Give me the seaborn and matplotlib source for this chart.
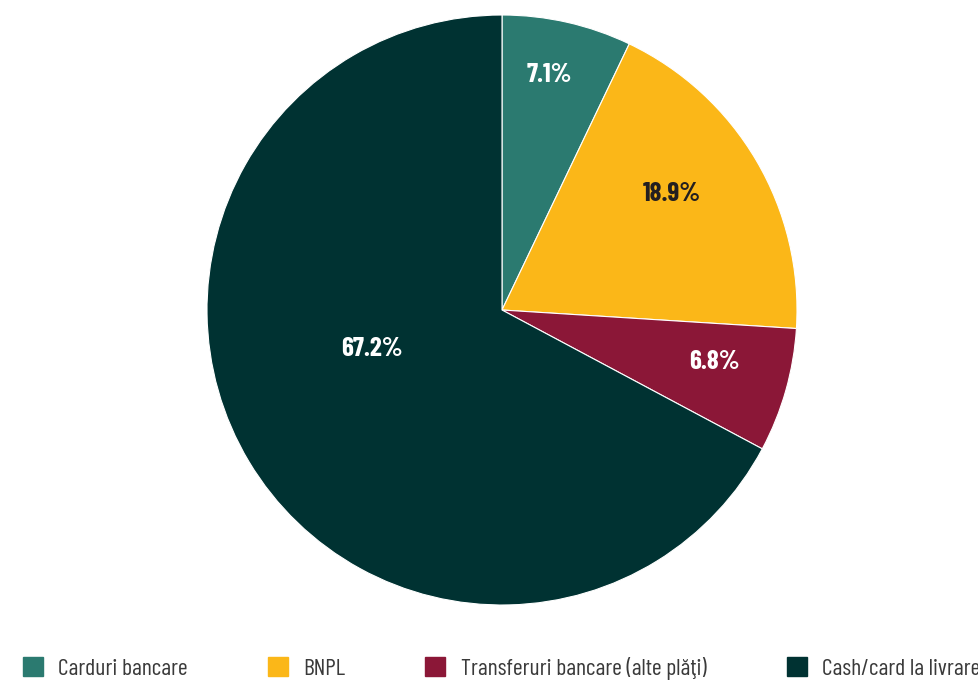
import numpy as np
import matplotlib
matplotlib.use("Agg")
import matplotlib.pyplot as plt
import seaborn as sns

categories = ["Carduri bancare", "BNPL", "Transferuri bancare (alte plăţi)", "Cash/card la livrare"]
values = [7.1, 18.9, 6.8, 67.2]
colors = ["#2b7a70", "#fbb718", "#8b1737", "#003232"]
label_colors = ["white", "#231f20", "white", "white"]
label_radius = [0.82, 0.70, 0.74, 0.46]
label_angle_shift = [1.5, 4.5, 2.5, -15.0]

sns.set_theme(style="white")
plt.rcParams['font.family'] = ['Barlow Condensed', 'DejaVu Sans']

fig = plt.figure(figsize=(9.79, 6.8), dpi=100)
cx, cy, r = 502, 310, 295
ax = fig.add_axes([(cx - r) / 979, (680 - cy - r) / 680, 2 * r / 979, 2 * r / 680])

wedges, _ = ax.pie(values, colors=colors, startangle=90, counterclock=False,
                   wedgeprops=dict(edgecolor="white", linewidth=0.8))
ax.set_xlim(-1, 1)
ax.set_ylim(-1, 1)
ax.set_aspect("equal")
ax.axis("off")

for w, v, lc, lr, sh in zip(wedges, values, label_colors, label_radius, label_angle_shift):
    mid = np.deg2rad((w.theta1 + w.theta2) / 2 + sh)
    ax.text(lr * np.cos(mid), lr * np.sin(mid) - 0.006, f"{v:.1f}%", color=lc,
            fontsize=19.5, fontweight="bold", ha="center", va="center")

handles = [plt.Rectangle((0, 0), 1, 1, color=c) for c in colors]
fig.legend(handles, categories, loc="lower left", bbox_to_anchor=(0.0235, 0.0),
           ncol=4, frameon=False, fontsize=17, handlelength=0.85, handleheight=0.85,
           handletextpad=0.64, columnspacing=3.4, borderpad=0, borderaxespad=0,
           labelcolor="#3a3a3a")

fig.savefig("out.png", dpi=100)
